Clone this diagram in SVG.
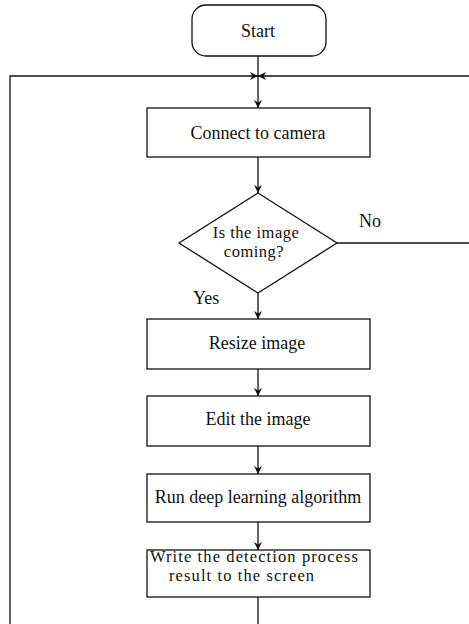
<svg xmlns="http://www.w3.org/2000/svg" width="469" height="624" viewBox="0 0 469 624">
  <style>
    .box { fill: #fff; stroke: #111; stroke-width: 1.3; }
    .ln { fill: none; stroke: #111; stroke-width: 1.3; }
    text { font-family: "Liberation Serif", "Times New Roman", serif; font-size: 18px; fill: #111; }
    .c { text-anchor: middle; }
    .two { font-size: 16.5px; letter-spacing: 0.5px; }
  </style>
  <defs>
    <marker id="arr" viewBox="0 0 10 10" refX="10" refY="5" markerWidth="8" markerHeight="8" markerUnits="userSpaceOnUse" orient="auto">
      <path d="M0,0 L10,5 L0,10 L3,5 Z" fill="#111"/>
    </marker>
  </defs>
  <rect width="469" height="624" fill="#fff"/>

  <g id="connectors">
    <path class="ln" d="M258,56 V108" marker-end="url(#arr)"/>
    <path class="ln" d="M10,624 V76 H258" marker-end="url(#arr)"/>
    <path class="ln" d="M469,76 H258" marker-end="url(#arr)"/>
    <path class="ln" d="M258,157 V193" marker-end="url(#arr)"/>
    <path class="ln" d="M337,243 H469"/>
    <path class="ln" d="M258,293 V319" marker-end="url(#arr)"/>
    <path class="ln" d="M258,369 V396" marker-end="url(#arr)"/>
    <path class="ln" d="M258,446 V474" marker-end="url(#arr)"/>
    <path class="ln" d="M258,522 V550" marker-end="url(#arr)"/>
    <path class="ln" d="M258,597 V624"/>
    <text x="359" y="227">No</text>
    <text x="193" y="304">Yes</text>
  </g>

  <g id="start">
    <rect class="box" x="192" y="5" width="134" height="51" rx="14"/>
    <text class="c" x="258" y="37">Start</text>
  </g>
  <g id="connect">
    <rect class="box" x="147" y="108" width="223" height="49"/>
    <text class="c" x="258" y="139">Connect to camera</text>
  </g>
  <g id="decision">
    <path class="box" d="M258,193 L337,243 L258,293 L179,243 Z"/>
    <text class="c two" x="256" y="238">Is the image</text>
    <text class="c two" x="254" y="257">coming?</text>
  </g>
  <g id="resize">
    <rect class="box" x="147" y="319" width="223" height="50"/>
    <text class="c" x="257" y="349">Resize image</text>
  </g>
  <g id="edit">
    <rect class="box" x="147" y="396" width="223" height="50"/>
    <text class="c" x="258" y="425">Edit the image</text>
  </g>
  <g id="run">
    <rect class="box" x="147" y="474" width="223" height="48"/>
    <text class="c" x="258" y="503">Run deep learning algorithm</text>
  </g>
  <g id="write">
    <rect class="box" x="147" y="550" width="223" height="47"/>
    <text class="two" x="150" y="562" style="letter-spacing:1.1px">Write the detection process</text>
    <text class="two" x="169" y="581" style="letter-spacing:1.1px">result to the screen</text>
  </g>
</svg>
